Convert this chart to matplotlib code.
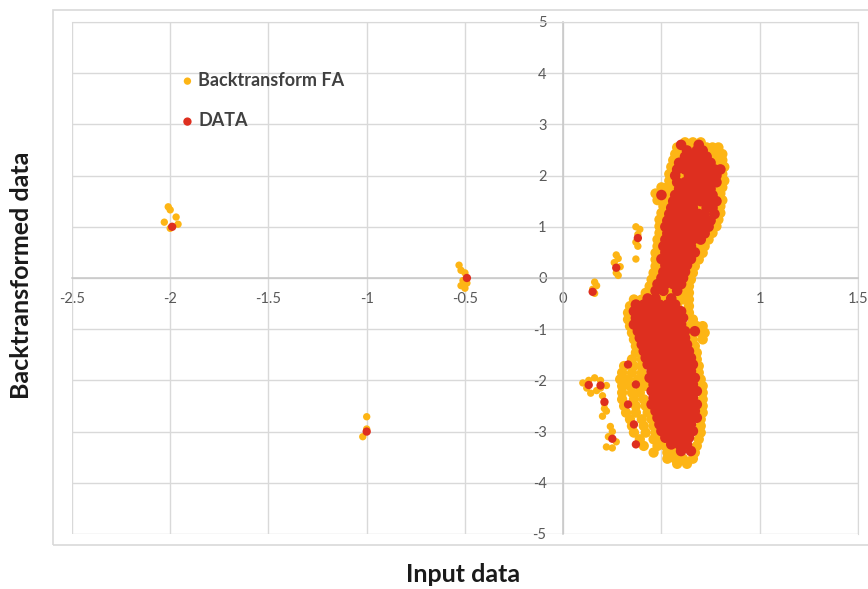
import numpy as np
import matplotlib.pyplot as plt
from matplotlib.patches import Rectangle

plt.rcParams['font.family'] = ['Lato', 'DejaVu Sans']

# ---- data ----
# isolated points (Backtransform FA, yellow)
fa_iso_x = [-2.01, -2.00, -1.97, -2.03, -1.96, -2.00, -1.00, -1.02, -1.00,
            -0.53, -0.52, -0.50, -0.51, -0.52, -0.49, -0.50]
fa_iso_y = [1.39, 1.33, 1.19, 1.09, 1.05, 0.97, -2.71, -3.10, -2.95,
            0.25, 0.15, 0.10, -0.05, -0.15, -0.10, -0.20]

# small groups next to the main cloud
fa_side_x = [0.16, 0.17, 0.16, 0.15, 0.27, 0.28, 0.26, 0.27, 0.28, 0.29,
             0.37, 0.39, 0.38, 0.37, 0.38, 0.37,
             0.10, 0.13, 0.16, 0.19, 0.22, 0.12, 0.14, 0.17, 0.20, 0.21,
             0.22, 0.20, 0.24, 0.25, 0.23, 0.27, 0.22, 0.25, 0.19, 0.21]
fa_side_y = [-0.08, -0.15, -0.30, -0.22, 0.45, 0.38, 0.30, 0.10, 0.05, 0.22,
             1.00, 0.95, 0.85, 0.70, 0.62, 0.37,
             -2.05, -2.00, -1.95, -2.00, -2.10, -2.15, -2.25, -2.20, -2.30, -2.45,
             -2.60, -2.70, -2.90, -3.00, -3.10, -3.20, -3.30, -3.32, -2.15, -2.55]

# main cloud, row by row: (y, x values)
fa_rows = [
    (2.65, [0.62, 0.66, 0.70]),
    (2.55, [0.58, 0.61, 0.65, 0.69, 0.73, 0.76, 0.79]),
    (2.42, [0.57, 0.60, 0.64, 0.68, 0.71, 0.74, 0.78, 0.81]),
    (2.30, [0.56, 0.59, 0.63, 0.66, 0.70, 0.73, 0.77, 0.81]),
    (2.17, [0.55, 0.58, 0.61, 0.66, 0.71, 0.75, 0.80, 0.82]),
    (2.03, [0.54, 0.57, 0.60, 0.64, 0.69, 0.73, 0.78, 0.81]),
    (1.90, [0.54, 0.56, 0.59, 0.64, 0.68, 0.73, 0.77, 0.82]),
    (1.77, [0.50, 0.53, 0.56, 0.59, 0.63, 0.68, 0.73, 0.78, 0.81]),
    (1.65, [0.47, 0.50, 0.53, 0.57, 0.61, 0.66, 0.71, 0.75, 0.80]),
    (1.52, [0.48, 0.52, 0.55, 0.59, 0.64, 0.69, 0.74, 0.78, 0.81]),
    (1.40, [0.51, 0.55, 0.59, 0.64, 0.69, 0.73, 0.77, 0.80]),
    (1.27, [0.50, 0.54, 0.59, 0.64, 0.68, 0.73, 0.78, 0.80]),
    (1.14, [0.49, 0.53, 0.58, 0.63, 0.68, 0.73, 0.77, 0.79]),
    (1.01, [0.49, 0.53, 0.58, 0.63, 0.67, 0.72, 0.76, 0.78]),
    (0.88, [0.49, 0.53, 0.58, 0.62, 0.67, 0.71, 0.76]),
    (0.75, [0.48, 0.52, 0.57, 0.61, 0.66, 0.70, 0.74]),
    (0.62, [0.48, 0.52, 0.56, 0.61, 0.65, 0.69, 0.72]),
    (0.49, [0.47, 0.51, 0.56, 0.60, 0.64, 0.68, 0.71]),
    (0.36, [0.47, 0.51, 0.55, 0.59, 0.63, 0.67, 0.69]),
    (0.23, [0.47, 0.51, 0.55, 0.59, 0.63, 0.67]),
    (0.10, [0.46, 0.50, 0.54, 0.58, 0.62, 0.66]),
    (-0.03, [0.45, 0.49, 0.53, 0.57, 0.61, 0.65]),
    (-0.16, [0.44, 0.48, 0.52, 0.56, 0.60, 0.64]),
    (-0.29, [0.42, 0.46, 0.50, 0.54, 0.58, 0.62, 0.64]),
    (-0.42, [0.36, 0.40, 0.44, 0.48, 0.52, 0.57, 0.61, 0.64]),
    (-0.55, [0.34, 0.38, 0.50, 0.58, 0.64]),
    (-0.68, [0.33, 0.37, 0.57, 0.64]),
    (-0.81, [0.33, 0.42, 0.66]),
    (-0.94, [0.34, 0.64, 0.68, 0.71]),
    (-1.07, [0.35, 0.43, 0.63, 0.70, 0.72]),
    (-1.20, [0.36, 0.39, 0.66, 0.71]),
    (-1.33, [0.37, 0.40, 0.67]),
    (-1.46, [0.37, 0.40, 0.68]),
    (-1.59, [0.35, 0.40, 0.68]),
    (-1.72, [0.31, 0.36, 0.40, 0.69]),
    (-1.85, [0.30, 0.35, 0.40, 0.69]),
    (-1.98, [0.29, 0.33, 0.38, 0.41, 0.70]),
    (-2.11, [0.30, 0.34, 0.39, 0.42, 0.71]),
    (-2.24, [0.30, 0.35, 0.39, 0.71]),
    (-2.37, [0.30, 0.36, 0.41, 0.71]),
    (-2.50, [0.31, 0.37, 0.42, 0.71]),
    (-2.63, [0.32, 0.37, 0.43, 0.71]),
    (-2.76, [0.34, 0.40, 0.45, 0.70]),
    (-2.89, [0.35, 0.41, 0.46, 0.70]),
    (-3.02, [0.36, 0.42, 0.47, 0.70]),
    (-3.15, [0.39, 0.46, 0.50, 0.69]),
    (-3.28, [0.41, 0.48, 0.52, 0.68]),
    (-3.41, [0.46, 0.53, 0.57, 0.67]),
    (-3.53, [0.53, 0.57, 0.61, 0.66]),
    (-3.63, [0.58, 0.63]),
]

# DATA (red)
data_iso_x = [-1.99, -1.00, -0.49]
data_iso_y = [1.00, -3.00, 0.00]

data_side_x = [0.15, 0.27, 0.38, 0.13, 0.19, 0.21, 0.25,
               0.33, 0.37, 0.33, 0.36, 0.37]
data_side_y = [-0.27, 0.20, 0.78, -2.09, -2.10, -2.42, -3.14,
               -1.69, -2.08, -2.47, -2.86, -3.25]

data_rows = [
    (2.60, [0.60, 0.69]),
    (2.49, [0.63, 0.68, 0.71]),
    (2.37, [0.62, 0.66, 0.70, 0.73]),
    (2.25, [0.59, 0.63, 0.67, 0.71, 0.75]),
    (2.12, [0.58, 0.62, 0.65, 0.69, 0.73, 0.77, 0.80]),
    (2.00, [0.57, 0.64, 0.68, 0.71, 0.75, 0.78]),
    (1.87, [0.58, 0.62, 0.66, 0.70, 0.74, 0.78]),
    (1.74, [0.59, 0.63, 0.67, 0.71, 0.75]),
    (1.62, [0.50, 0.57, 0.61, 0.64, 0.68, 0.72, 0.76]),
    (1.50, [0.56, 0.60, 0.63, 0.67, 0.70, 0.74, 0.78]),
    (1.37, [0.55, 0.59, 0.62, 0.66, 0.73, 0.76]),
    (1.25, [0.54, 0.58, 0.62, 0.65, 0.69, 0.72, 0.77]),
    (1.12, [0.53, 0.57, 0.61, 0.64, 0.68, 0.71, 0.75]),
    (1.00, [0.52, 0.56, 0.60, 0.63, 0.67, 0.70, 0.74]),
    (0.87, [0.53, 0.57, 0.60, 0.64, 0.68, 0.72]),
    (0.75, [0.52, 0.56, 0.59, 0.63, 0.66, 0.70]),
    (0.62, [0.51, 0.55, 0.58, 0.62, 0.65]),
    (0.50, [0.52, 0.56, 0.60, 0.63, 0.67]),
    (0.37, [0.50, 0.54, 0.58, 0.61, 0.65]),
    (0.25, [0.52, 0.56, 0.59, 0.63]),
    (0.12, [0.51, 0.55, 0.58, 0.62]),
    (0.00, [0.50, 0.54, 0.57, 0.61]),
    (-0.12, [0.48, 0.52, 0.56, 0.60]),
    (-0.25, [0.47, 0.51, 0.58]),
    (-0.40, [0.43, 0.47, 0.55]),
    (-0.52, [0.37, 0.41, 0.45, 0.49, 0.53, 0.57]),
    (-0.65, [0.36, 0.40, 0.44, 0.48, 0.52, 0.56, 0.60]),
    (-0.78, [0.37, 0.41, 0.45, 0.49, 0.53, 0.57, 0.61]),
    (-0.91, [0.36, 0.40, 0.44, 0.48, 0.52, 0.56, 0.60]),
    (-1.04, [0.38, 0.42, 0.46, 0.50, 0.54, 0.58, 0.62, 0.67]),
    (-1.17, [0.39, 0.43, 0.47, 0.51, 0.55, 0.59, 0.62]),
    (-1.30, [0.40, 0.44, 0.48, 0.52, 0.56, 0.60, 0.63]),
    (-1.43, [0.41, 0.45, 0.49, 0.53, 0.57, 0.61, 0.64]),
    (-1.56, [0.42, 0.46, 0.50, 0.54, 0.58, 0.62, 0.65]),
    (-1.69, [0.43, 0.47, 0.51, 0.55, 0.59, 0.63, 0.66]),
    (-1.82, [0.45, 0.49, 0.53, 0.57, 0.61, 0.65]),
    (-1.95, [0.44, 0.48, 0.52, 0.56, 0.60, 0.64, 0.67]),
    (-2.08, [0.46, 0.50, 0.54, 0.58, 0.62, 0.66]),
    (-2.21, [0.45, 0.49, 0.53, 0.57, 0.61, 0.65, 0.68]),
    (-2.34, [0.46, 0.50, 0.54, 0.58, 0.62, 0.66]),
    (-2.47, [0.45, 0.49, 0.53, 0.57, 0.61, 0.65, 0.68]),
    (-2.60, [0.47, 0.51, 0.55, 0.59, 0.63, 0.67]),
    (-2.73, [0.48, 0.52, 0.56, 0.60, 0.64, 0.68]),
    (-2.86, [0.49, 0.53, 0.57, 0.61, 0.65]),
    (-2.99, [0.50, 0.54, 0.58, 0.62, 0.66]),
    (-3.12, [0.52, 0.56, 0.60, 0.64]),
    (-3.25, [0.55, 0.59, 0.63]),
    (-3.38, [0.60, 0.65]),
]

x_ticks = [-2.5, -2, -1.5, -1, -0.5, 0, 0.5, 1, 1.5]
y_ticks = [-5, -4, -3, -2, -1, 0, 1, 2, 3, 4, 5]


def expand(rows):
    xs, ys = [], []
    for y, row in rows:
        xs += row
        ys += [y] * len(row)
    return np.array(xs), np.array(ys)


fa_cx, fa_cy = expand(fa_rows)
fa_px = np.array(fa_iso_x + fa_side_x)
fa_py = np.array(fa_iso_y + fa_side_y)
data_cx, data_cy = expand(data_rows)
data_px = np.array(data_iso_x + data_side_x)
data_py = np.array(data_iso_y + data_side_y)

yellow = '#FDB515'
red = '#DE2F1F'

fig = plt.figure(figsize=(8.68, 5.89), dpi=100)
ax = fig.add_axes([0.0829, 0.0934, 0.9055, 0.8693])

# outer chart border
fig.patches.append(Rectangle((0.061, 0.0747), 1.0, 0.908, transform=fig.transFigure,
                             fill=False, edgecolor='#D9D9D9', linewidth=1.2))

# dense cloud drawn with bigger dots so it closes up like the original
ax.scatter(fa_px, fa_py, s=28, color=yellow, edgecolors='none', label='Backtransform FA', zorder=3)
ax.scatter(fa_cx, fa_cy, s=55, color=yellow, edgecolors='none', zorder=3)
ax.scatter(data_px, data_py, s=36, color=red, edgecolors='none', label='DATA', zorder=4)
ax.scatter(data_cx, data_cy, s=58, color=red, edgecolors='none', zorder=4)

ax.set_xlim(-2.5, 1.5)
ax.set_ylim(-5, 5)
ax.set_xticks(x_ticks)
ax.set_xticklabels([f'{t:g}' for t in x_ticks])
ax.set_yticks(y_ticks)
ax.set_yticklabels([str(t) for t in y_ticks])
ax.grid(True, color='#D9D9D9', linewidth=1.0, zorder=0)
ax.set_axisbelow(True)

ax.spines['left'].set_position(('data', 0))
ax.spines['bottom'].set_position(('data', 0))
for s in ['left', 'bottom']:
    ax.spines[s].set_color('#C8C8C8')
    ax.spines[s].set_linewidth(1.1)
for s in ['top', 'right']:
    ax.spines[s].set_color('#D9D9D9')
ax.tick_params(length=0, labelsize=10.5, labelcolor='#595959')
ax.tick_params(axis='x', pad=10)
ax.tick_params(axis='y', pad=12)

leg = ax.legend(loc='upper left', bbox_to_anchor=(0.2097, 0.878), bbox_transform=fig.transFigure,
                frameon=False, fontsize=13, handlelength=0.6, handletextpad=0.3,
                labelspacing=1.3, borderpad=0, borderaxespad=0, scatterpoints=1)
for t in leg.get_texts():
    t.set_color('#404040')
    t.set_fontweight('bold')

fig.text(463 / 868, 1 - 575 / 589, 'Input data', ha='center', va='center',
         fontsize=18, fontweight='bold', color='#1A1A1A')
fig.text(22 / 868, 1 - 275 / 589, 'Backtransformed data', ha='center', va='center',
         rotation=90, fontsize=18, fontweight='bold', color='#1A1A1A')

fig.savefig('out.png', dpi=100)
